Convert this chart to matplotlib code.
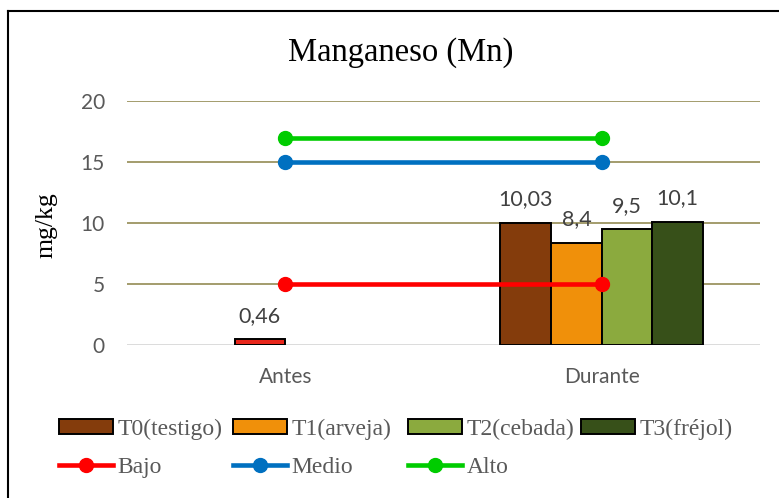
import numpy as np
import matplotlib.pyplot as plt
from matplotlib.lines import Line2D
from matplotlib.patches import Patch

# data
categories = ["Antes", "Durante"]
series_names = ["T0(testigo)", "T1(arveja)", "T2(cebada)", "T3(fréjol)"]
t0 = [np.nan, 10.03]
t1 = [0.46, 8.4]
t2 = [np.nan, 9.5]
t3 = [np.nan, 10.1]
labels_txt = {"T0(testigo)": [None, "10,03"], "T1(arveja)": ["0,46", "8,4"],
              "T2(cebada)": [None, "9,5"], "T3(fréjol)": [None, "10,1"]}
bajo = [5, 5]
medio = [15, 15]
alto = [17, 17]
yticks = [0, 5, 10, 15, 20]

bar_colors = ["#843C0C", "#F0900A", "#8BAA3E", "#375019"]
antes_color = "#E8261B"
line_colors = {"Bajo": "#FF0000", "Medio": "#0070C0", "Alto": "#00CC00"}
serif = ["Liberation Serif", "DejaVu Serif"]
sans = ["Lato", "DejaVu Sans"]
gray = "#595959"

W, H = 779, 498
fig = plt.figure(figsize=(W / 100, H / 100), dpi=100)
ax = fig.add_axes([127 / W, 1 - 345 / H, 633 / W, 244 / H])

x = np.arange(len(categories))
w = 0.16
values = [t0, t1, t2, t3]
for i, (name, vals) in enumerate(zip(series_names, values)):
    pos = x + (i - 1.5) * w
    cols = [bar_colors[i]] * len(x)
    if name == "T1(arveja)":
        cols[0] = antes_color
    ax.bar(pos, vals, width=w, color=cols, edgecolor="black", linewidth=1.4, zorder=3)
    for p, v, t in zip(pos, vals, labels_txt[name]):
        if t is not None:
            ax.text(p, v + 1.1, t, ha="center", va="bottom", fontsize=15.5,
                    color="#404040", family=sans, zorder=5)

for name, vals in [("Bajo", bajo), ("Medio", medio), ("Alto", alto)]:
    ax.plot(x, vals, color=line_colors[name], linewidth=3.3, marker="o",
            markersize=10, zorder=4)

ax.set_xlim(-0.5, 1.5)
ax.set_ylim(0, 20)
ax.set_yticks(yticks)
ax.set_xticks(x)
ax.set_xticklabels(categories)
for y in yticks[1:]:
    ax.axhline(y, color="#9C9461", linewidth=1.3, zorder=1)
ax.axhline(0, color="#D9D9D9", linewidth=1.3, zorder=2)
for s in ax.spines.values():
    s.set_visible(False)
ax.tick_params(length=0, labelsize=15, colors=gray)
ax.tick_params(axis="y", pad=16)
ax.tick_params(axis="x", pad=16)
for lab in ax.get_xticklabels() + ax.get_yticklabels():
    lab.set_family(sans)

fig.text(46 / W, 1 - 225 / H, "mg/kg", rotation=90, ha="center", va="center",
         family=serif, fontsize=18.5, color="black")
fig.text(0.514, 1 - 53 / H, "Manganeso (Mn)", ha="center", va="center",
         family=serif, fontsize=23.5, color="black")

# legend: four columns placed like the reference
def patch(c):
    return Patch(facecolor=c, edgecolor="black", linewidth=1.4)

def mline(c):
    return Line2D([], [], color=c, linewidth=3.3, marker="o", markersize=10)

columns = [
    (59, [patch(bar_colors[0]), mline(line_colors["Bajo"])], ["T0(testigo)", "Bajo"]),
    (233, [patch(bar_colors[1]), mline(line_colors["Medio"])], ["T1(arveja)", "Medio"]),
    (408, [patch(bar_colors[2]), mline(line_colors["Alto"])], ["T2(cebada)", "Alto"]),
    (581, [patch(bar_colors[3])], ["T3(fréjol)"]),
]
for xpix, hs, ls in columns:
    leg = fig.legend(hs, ls, loc="upper left", bbox_to_anchor=(xpix / W, 1 - 419 / H),
                     frameon=False, prop={"family": serif, "size": 17},
                     handlelength=2.3, handleheight=0.6, handletextpad=0.17,
                     labelspacing=0.72, borderpad=0, borderaxespad=0)
    for t in leg.get_texts():
        t.set_color(gray)

# chart border (top and left edges visible in the crop)
fig.add_artist(Line2D([8 / W, 1.0], [1 - 11 / H, 1 - 11 / H], color="black",
                      linewidth=1.5, transform=fig.transFigure))
fig.add_artist(Line2D([8 / W, 8 / W], [0.0, 1 - 11 / H], color="black",
                      linewidth=1.5, transform=fig.transFigure))

fig.savefig("out.png", dpi=100)
